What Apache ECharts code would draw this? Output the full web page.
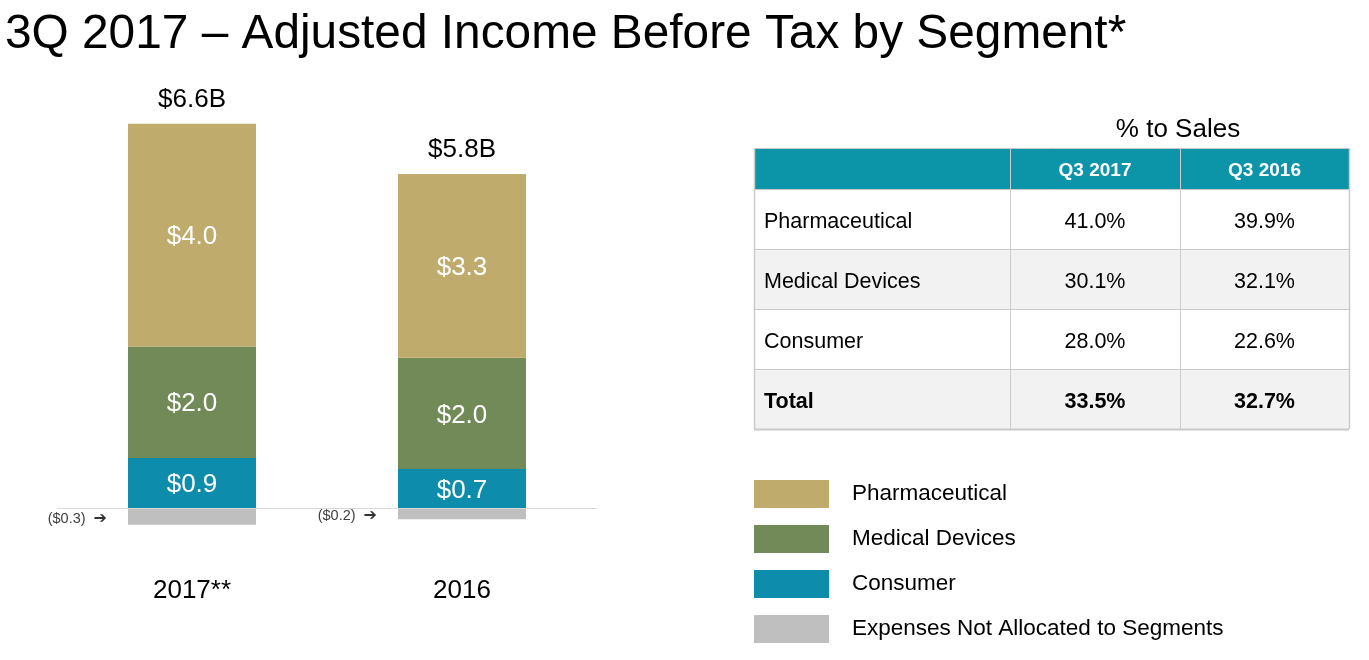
<!DOCTYPE html>
<html>
<head>
<meta charset="utf-8">
<script src="https://cdn.jsdelivr.net/npm/echarts@6/dist/echarts.min.js"></script>
<style>
html,body{margin:0;padding:0;background:#fff;}
#chart{width:1369px;height:660px;}
</style>
</head>
<body>
<div id="chart"></div>
<script>
// ---- data ----
const categories = ['2017**', '2016'];
const pharmaceutical = [4.0, 3.3];
const medicalDevices = [2.0, 2.0];
const consumer = [0.9, 0.7];
const expenses = [-0.3, -0.2];
const totals = ['$6.6B', '$5.8B'];
const seriesNames = ['Pharmaceutical', 'Medical Devices', 'Consumer', 'Expenses Not Allocated to Segments'];

const tableTitle = '% to Sales';
const tableHeader = ['', 'Q3 2017', 'Q3 2016'];
const tableRows = [
  ['Pharmaceutical', '41.0%', '39.9%'],
  ['Medical Devices', '30.1%', '32.1%'],
  ['Consumer', '28.0%', '22.6%'],
  ['Total', '33.5%', '32.7%']
];

// ---- styles ----
const FONT = '"Liberation Sans", Arial, sans-serif';
const colors = ['#bfac6c', '#728a57', '#0d8dab', '#bfbfbf'];

// table geometry
const colX = [754, 1010, 1180, 1349];
const rowY = [148, 189, 249, 309, 369, 429];
const graphics = [];
graphics.push({
  type: 'text', x: 1178, y: 130,
  style: {text: tableTitle, font: '26px ' + FONT, fill: '#000', textAlign: 'center', textVerticalAlign: 'middle'}
});
// header
graphics.push({type: 'rect', shape: {x: colX[0], y: rowY[0], width: colX[3] - colX[0], height: rowY[1] - rowY[0]}, style: {fill: '#0c95a8'}});
for (let c = 1; c < 3; c++) {
  graphics.push({
    type: 'text', x: (colX[c] + colX[c + 1]) / 2, y: (rowY[0] + rowY[1]) / 2 + 2,
    style: {text: tableHeader[c], font: 'bold 19px ' + FONT, fill: '#fff', textAlign: 'center', textVerticalAlign: 'middle'}
  });
}
tableRows.forEach((row, r) => {
  const y0 = rowY[r + 1], y1 = rowY[r + 2];
  graphics.push({type: 'rect', shape: {x: colX[0], y: y0, width: colX[3] - colX[0], height: y1 - y0}, style: {fill: r % 2 ? '#f2f2f2' : '#ffffff'}});
  const bold = r === tableRows.length - 1 ? 'bold ' : '';
  row.forEach((cell, c) => {
    graphics.push({
      type: 'text',
      x: c === 0 ? colX[0] + 10 : (colX[c] + colX[c + 1]) / 2,
      y: (y0 + y1) / 2 + 3,
      style: {text: cell, font: bold + '21.5px ' + FONT, fill: '#000', textAlign: c === 0 ? 'left' : 'center', textVerticalAlign: 'middle'}
    });
  });
});
// grid lines
for (let i = 0; i < rowY.length; i++) {
  graphics.push({type: 'line', shape: {x1: colX[0], y1: rowY[i] + 0.5, x2: colX[3], y2: rowY[i] + 0.5}, style: {stroke: '#c9c9c9', lineWidth: i === rowY.length - 1 ? 2 : 1}});
}
for (let i = 0; i < colX.length; i++) {
  graphics.push({type: 'line', shape: {x1: colX[i] + 0.5, y1: rowY[0], x2: colX[i] + 0.5, y2: rowY[rowY.length - 1]}, style: {stroke: '#cccccc', lineWidth: (i === 0 || i === 3) ? 1.5 : 1}});
}

const chart = echarts.init(document.getElementById('chart'), null, {renderer: 'canvas'});
const inLabel = {show: true, position: 'inside', offset: [0, 2], color: '#fff', fontSize: 26, fontFamily: FONT, formatter: p => '$' + p.value.toFixed(1)};
const BW = '47.4%';

chart.setOption({
  animation: false,
  backgroundColor: '#fff',
  title: {
    text: '3Q 2017 \u2013 Adjusted Income Before Tax by Segment*',
    left: 5, top: 11, padding: 0,
    textStyle: {fontSize: 47.8, fontWeight: 'normal', fontFamily: FONT, color: '#000'}
  },
  legend: {
    orient: 'vertical', left: 754, top: 480, padding: 0,
    itemWidth: 75, itemHeight: 28, itemGap: 17,
    icon: 'rect',
    textStyle: {fontSize: 22.5, fontFamily: FONT, color: '#000', lineHeight: 24, padding: [4, 0, 0, 18]},
    data: seriesNames
  },
  grid: {left: 57, width: 540, top: 118.3, height: 445.4},
  xAxis: {
    type: 'category', data: categories,
    axisLine: {show: false},
    axisTick: {show: false},
    axisLabel: {fontSize: 26, fontFamily: FONT, color: '#000', margin: 14}
  },
  yAxis: {type: 'value', min: -1, max: 7, show: false, splitLine: {show: false}},
  series: [
    {name: seriesNames[2], type: 'bar', stack: 'total', data: consumer, barWidth: BW, itemStyle: {color: colors[2]}, label: inLabel,
     markLine: {silent: true, symbol: 'none', label: {show: false}, lineStyle: {color: '#d9d9d9', type: 'solid', width: 1}, data: [{yAxis: 0}]}},
    {name: seriesNames[1], type: 'bar', stack: 'total', data: medicalDevices, barWidth: BW, itemStyle: {color: colors[1]}, label: inLabel},
    {name: seriesNames[0], type: 'bar', stack: 'total', data: pharmaceutical, barWidth: BW, itemStyle: {color: colors[0]}, label: inLabel},
    {name: 'totals', type: 'bar', stack: 'total', data: pharmaceutical.map(() => 0), barWidth: BW, itemStyle: {color: 'transparent'},
     label: {show: true, position: 'top', distance: 11, color: '#000', fontSize: 26, fontFamily: FONT, formatter: p => totals[p.dataIndex]}},
    {name: seriesNames[3], type: 'bar', stack: 'total', data: expenses, barWidth: BW, itemStyle: {color: colors[3]},
     label: {show: true, position: 'left', distance: 21, offset: [0, 2.5], color: '#404040', fontSize: 14.5, fontFamily: FONT,
             formatter: p => '(' + '$' + Math.abs(p.value).toFixed(1) + ')  {a|\u2794}',
             rich: {a: {fontSize: 16, fontWeight: 'bold', color: '#333', fontFamily: '"DejaVu Sans", sans-serif'}}}}
  ],
  graphic: graphics
});
</script>
</body>
</html>
